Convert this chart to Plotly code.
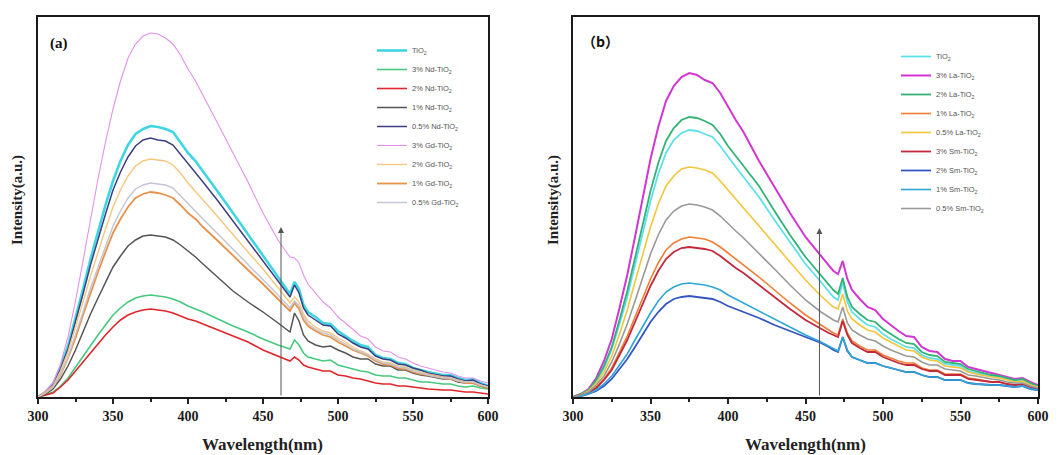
import plotly.graph_objects as go

wavelength = [300,305,310,315,320,325,330,335,340,345,
              350,355,360,365,370,375,380,385,390,395,
              400,405,410,420,430,440,450,460,465,468,
              471,474,477,480,485,490,495,500,505,510,
              515,520,525,530,535,540,545,550,555,560,
              570,575,580,585,590,595,600]

# ---- panel (a) ----
a_names = ["TiO<sub>2</sub>", "3% Nd-TiO<sub>2</sub>", "2% Nd-TiO<sub>2</sub>", "1% Nd-TiO<sub>2</sub>",
           "0.5% Nd-TiO<sub>2</sub>", "3% Gd-TiO<sub>2</sub>", "2% Gd-TiO<sub>2</sub>", "1% Gd-TiO<sub>2</sub>",
           "0.5% Gd-TiO<sub>2</sub>"]
a_tio2 = [0,5,13,30,51,79,108,138,165,192,216,236,252,263,268,271,270,268,265,255,
          244,236,226,205,184,163,142,121,110,103,115,108,92,85,80,74,73,66,61,56,
          52,50,42,39,38,34,33,29,27,25,22,22,19,17,18,14,11]
a_nd3 = [0,2,5,11,19,30,41,52,62,72,82,89,95,99,101,102,101,100,98,95,
         91,88,85,78,71,65,58,52,49,48,57,52,44,40,38,36,37,32,30,28,
         26,25,22,21,21,19,19,17,15,15,13,13,11,10,11,9,8]
a_nd2 = [0,2,4,10,17,26,35,45,54,62,70,77,82,85,87,88,87,86,84,81,
         78,76,73,67,61,55,47,41,38,36,40,37,32,30,28,26,26,22,21,19,
         18,16,14,13,13,11,11,10,9,8,7,7,6,5,5,4,3]
a_nd1 = [0,3,8,18,31,47,65,83,99,115,130,141,151,157,161,162,161,160,157,152,
         146,140,133,119,106,95,85,74,68,65,84,76,62,56,52,50,51,47,44,40,
         38,38,33,31,31,27,27,24,22,21,18,18,15,14,14,11,9]
a_nd05 = [0,5,12,28,48,75,103,132,158,183,207,225,240,251,257,259,257,256,252,243,
          233,225,215,196,176,156,136,116,106,100,112,104,89,82,77,72,71,63,59,54,
          50,48,41,38,37,33,32,29,27,24,21,21,18,16,17,13,11]
a_gd3 = [0,6,14,33,60,96,136,178,218,255,288,316,339,353,361,364,363,359,353,342,
         328,316,302,273,244,215,184,157,146,140,139,134,122,113,104,95,89,80,74,67,
         61,58,50,46,45,40,38,34,31,29,25,24,21,19,19,16,14]
a_gd2 = [0,5,11,26,45,69,95,121,145,168,190,207,221,231,236,238,237,236,232,224,
         214,206,197,180,162,145,128,110,100,94,100,95,83,76,70,66,64,59,55,50,
         46,43,38,35,34,31,30,27,25,23,20,19,17,15,15,12,10]
a_gd1 = [0,4,10,22,39,59,82,104,125,145,164,178,190,199,203,205,204,202,199,192,
         184,178,170,156,141,127,113,98,91,86,94,88,77,71,66,62,60,55,51,47,
         44,41,36,33,32,29,28,25,23,22,19,18,16,14,14,11,9]
a_gd05 = [0,4,10,23,40,62,85,109,130,151,171,186,199,208,212,214,213,212,209,201,
          193,186,178,163,148,133,118,102,94,89,96,91,80,73,68,64,62,57,53,48,
          45,42,37,34,33,30,29,26,24,22,19,19,16,15,15,12,10]
a_colors = ["#3fd6e2", "#46c97e", "#e0262a", "#555555", "#3c3f80",
            "#e391ea", "#f6c77e", "#e8914a", "#c4c4d2"]
a_widths = [2.6, 1.6, 1.6, 1.5, 1.5, 1.1, 1.4, 1.8, 1.4]

# ---- panel (b) ----
b_names = ["TiO<sub>2</sub>", "3% La-TiO<sub>2</sub>", "2% La-TiO<sub>2</sub>", "1% La-TiO<sub>2</sub>",
           "0.5% La-TiO<sub>2</sub>", "3% Sm-TiO<sub>2</sub>", "2% Sm-TiO<sub>2</sub>", "1% Sm-TiO<sub>2</sub>",
           "0.5% Sm-TiO<sub>2</sub>"]
b_tio2 = [0,3,7,16,29,48,73,100,132,164,196,223,244,257,264,267,266,263,260,251,
          240,230,220,200,177,155,133,115,106,100,97,115,95,85,78,72,70,63,58,54,
          50,49,42,39,38,33,32,31,26,24,21,20,18,16,17,13,10]
b_la3 = [0,3,8,19,36,58,89,122,160,200,238,270,296,311,320,324,322,317,314,304,
         290,277,265,236,210,184,160,141,132,126,123,136,118,107,98,90,87,78,72,66,
         61,60,50,46,45,38,36,36,30,28,24,22,20,18,19,15,12]
b_la2 = [0,3,7,17,31,50,77,106,139,173,206,234,256,269,277,280,279,276,272,263,
         251,241,231,211,186,162,140,122,113,107,103,119,100,90,83,77,75,68,63,58,
         54,53,45,42,41,35,34,33,28,26,22,21,19,17,18,14,11]
b_la1 = [0,2,5,10,18,29,45,61,80,99,118,134,147,154,158,160,159,158,155,150,
         144,138,132,120,107,94,82,72,67,64,62,78,64,56,51,47,47,42,39,36,
         34,34,29,27,27,23,23,23,19,18,15,15,13,12,13,10,8]
b_la05 = [0,2,6,14,25,41,63,87,115,142,170,193,211,221,228,230,229,227,224,216,
          207,199,190,172,154,135,117,101,94,90,88,103,86,78,72,67,65,59,55,51,
          47,46,40,37,36,31,30,29,25,23,20,19,17,15,16,12,10]
b_sm3 = [0,2,4,9,17,27,42,57,75,93,111,126,138,145,149,150,149,148,146,141,
         135,129,124,112,100,88,77,68,64,62,60,76,62,54,49,45,45,40,37,34,
         32,32,28,26,26,22,22,22,18,17,15,15,13,12,13,10,8]
b_sm2 = [0,1,3,6,11,18,28,38,50,63,75,85,93,98,100,101,100,99,98,95,
         91,88,85,79,72,66,60,54,50,47,45,60,46,40,37,34,34,31,29,27,
         25,25,22,20,20,17,17,17,14,13,12,12,11,10,11,8,7]
b_sm1 = [0,1,3,7,13,21,32,43,57,71,84,96,105,110,113,114,113,112,110,107,
         102,98,94,86,78,70,62,55,51,48,46,60,47,40,37,34,34,31,29,27,
         25,25,22,20,20,17,17,17,14,13,12,12,11,10,11,8,7]
b_sm05 = [0,2,5,12,21,35,53,73,96,120,143,162,177,186,191,193,192,190,187,181,
          173,166,159,144,128,112,97,85,80,77,75,90,74,67,62,58,56,51,47,44,
          41,40,35,32,32,28,27,26,22,21,18,17,15,14,14,11,9]
b_colors = ["#5ee0ea", "#d236d2", "#33b277", "#ef7f34", "#f3c63a",
            "#c4283c", "#3556c2", "#2fa6d6", "#999999"]
b_widths = [1.8, 2.0, 1.8, 1.6, 1.6, 1.8, 1.8, 1.6, 1.6]

x_ticks = [300, 350, 400, 450, 500, 550, 600]
arrow_a = (462, 170)
arrow_b = (459, 169)

serif = "Liberation Serif"

fig = go.Figure()
a_series = [a_tio2, a_nd3, a_nd2, a_nd1, a_nd05, a_gd3, a_gd2, a_gd1, a_gd05]
b_series = [b_tio2, b_la3, b_la2, b_la1, b_la05, b_sm3, b_sm2, b_sm1, b_sm05]

for i in range(9):
    fig.add_trace(go.Scatter(x=wavelength, y=a_series[i], mode="lines", name=a_names[i],
                             line=dict(color=a_colors[i], width=a_widths[i]),
                             xaxis="x", yaxis="y", legend="legend"))
for i in range(9):
    fig.add_trace(go.Scatter(x=wavelength, y=b_series[i], mode="lines", name=b_names[i],
                             line=dict(color=b_colors[i], width=b_widths[i]),
                             xaxis="x2", yaxis="y2", legend="legend2"))

W, H = 1061, 455
ydom = [(H - 397) / H, (H - 17) / H]

def xax(domain, anchor):
    return dict(domain=domain, anchor=anchor, range=[300, 600],
                tickmode="array", tickvals=x_ticks, ticktext=["<b>%d</b>" % t for t in x_ticks],
                ticks="outside", ticklen=5,
                tickwidth=1.5, tickcolor="#222", showline=True, mirror=True, linewidth=2,
                linecolor="#1a1a1a", showgrid=False, zeroline=False,
                tickfont=dict(family=serif, size=14, color="#1a1a1a", weight=700),
                minor=dict(tickvals=[325, 375, 425, 475, 525, 575], ticks="outside", ticklen=3,
                           tickcolor="#222"))

def yax(anchor):
    return dict(domain=ydom, range=[0, 380], anchor=anchor, showticklabels=False, ticks="",
                showline=True, mirror=True, linewidth=2, linecolor="#1a1a1a",
                showgrid=False, zeroline=False)

leg_common = dict(bgcolor="rgba(0,0,0,0)", borderwidth=0,
                  font=dict(family="Liberation Sans, Arial, sans-serif", size=7.5, color="#555"),
                  xanchor="left", yanchor="top", itemwidth=30, tracegroupgap=0)

fig.update_layout(
    width=W, height=H, margin=dict(l=0, r=0, t=0, b=0, autoexpand=False),
    paper_bgcolor="white", plot_bgcolor="white", showlegend=True,
    xaxis=xax([38 / W, 488 / W], "y"), yaxis=yax("x"),
    xaxis2=xax([573 / W, 1038 / W], "y2"), yaxis2=yax("x2"),
    legend=dict(leg_common, x=372 / W, y=1 - 36 / H),
    legend2=dict(leg_common, x=896 / W, y=1 - 42 / H),
)

ann = []
for xr, yr, (ax_x, ax_y) in [("x", "y", arrow_a), ("x2", "y2", arrow_b)]:
    ann.append(dict(x=ax_x, y=ax_y, ax=ax_x, ay=0, xref=xr, yref=yr, axref=xr, ayref=yr,
                    showarrow=True, arrowhead=2, arrowsize=1.2, arrowwidth=1, arrowcolor="#555",
                    text=""))
ann.append(dict(x=48 / W, y=1 - 43 / H, xref="paper", yref="paper", text="<b>(a)</b>",
                showarrow=False, xanchor="left", yanchor="middle",
                font=dict(family=serif, size=15, color="#111")))
ann.append(dict(x=580 / W, y=1 - 41 / H, xref="paper", yref="paper", text="<b>（b）</b>",
                showarrow=False, xanchor="left", yanchor="middle",
                font=dict(family="Noto Sans CJK SC", size=14, color="#111")))
for cx in [262, 805]:
    ann.append(dict(x=cx / W, y=1 - 444 / H, xref="paper", yref="paper",
                    text="<b>Wavelength(nm)</b>", showarrow=False, xanchor="center", yanchor="middle",
                    font=dict(family=serif, size=17, color="#222")))
for cx in [17, 553]:
    ann.append(dict(x=cx / W, y=1 - 200 / H, xref="paper", yref="paper",
                    text="<b>Intensity(a.u.)</b>", showarrow=False, xanchor="center", yanchor="middle",
                    textangle=-90, font=dict(family=serif, size=15, color="#222")))
fig.update_layout(annotations=ann)

fig.write_html("out.html")
